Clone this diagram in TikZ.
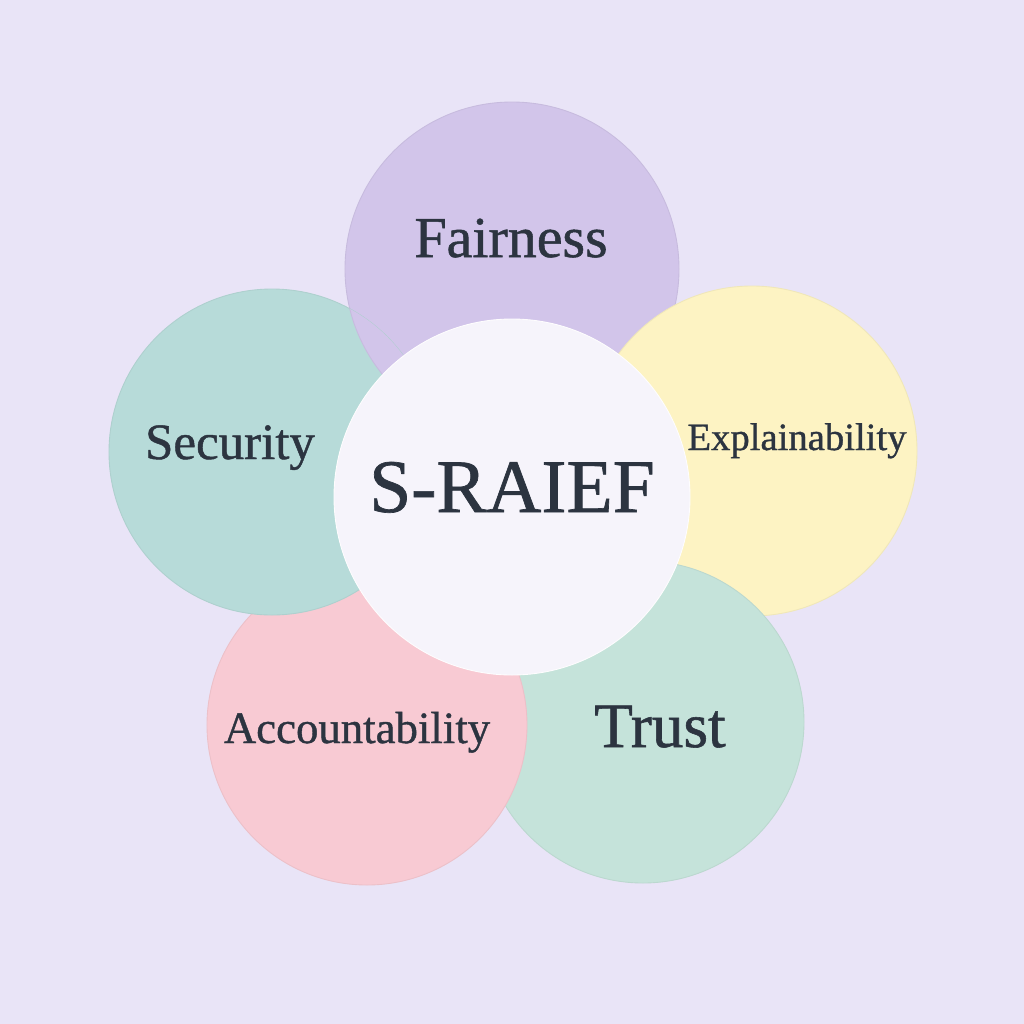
\documentclass[tikz,border=0pt]{standalone}
\usepackage{fontspec}
\setmainfont{Liberation Serif}[FakeBold=0.9]
\usetikzlibrary{positioning}

\definecolor{bgcol}{HTML}{E9E4F7}
\definecolor{fairc}{HTML}{D2C5EA}
\definecolor{explc}{HTML}{FDF3C3}
\definecolor{trustc}{HTML}{C5E3DA}
\definecolor{accc}{HTML}{F8CAD3}
\definecolor{secc}{HTML}{B7DBD9}
\definecolor{hubc}{HTML}{F6F4FB}
\definecolor{inkcol}{HTML}{2C3440}

\begin{document}
\begin{tikzpicture}[
    x=0.2mm, y=-0.2mm,
    petal/.style={circle, fill=#1, draw=#1!95!black, line width=0.5pt, inner sep=0pt},
    txt/.style={text=inkcol, anchor=base, inner sep=0pt},
]

% background
\fill[bgcol] (0,0) rectangle (1024,1024);
\useasboundingbox (0,0) rectangle (1024,1024);

% petals
\node[petal=fairc, minimum size=66.8mm] (fair) at (512,269) {};
\node[petal=explc, minimum size=66mm] (expl) at (752,451) {};
\node[petal=trustc, minimum size=64.4mm] (trust) at (643,722) {};
\node[petal=accc, minimum size=64mm] (acc) at (367,725) {};
\node[petal=secc, minimum size=65.2mm] (sec) at (272,452) {};

% fairness lies over security
\begin{scope}
  \clip (sec.center) circle (32.6mm);
  \filldraw[fill=fairc, draw=fairc!95!black, line width=0.5pt] (fair.center) circle (33.4mm);
\end{scope}

% hub
\node[petal=hubc, draw=white!85!hubc, minimum size=71.2mm] (hub) at (512,497) {};

% labels
\node[txt, font=\fontsize{43}{50}\selectfont] (hubtxt) at (512,512) {S-RAIEF};
\node[txt, font=\fontsize{33}{38}\selectfont] (fairtxt) at (511,257) {Fairness};
\node[txt, font=\fontsize{29}{34}\selectfont] (sectxt) at (230,459) {Security};
\node[txt, font=\fontsize{22}{26}\selectfont] (expltxt) at (797,450) {Explainability};
\node[txt, font=\fontsize{36}{42}\selectfont] (trusttxt) at (660,747) {Trust};
\node[txt, font=\fontsize{25.5}{30}\selectfont] (acctxt) at (357,743) {Accountability};

\end{tikzpicture}
\end{document}
